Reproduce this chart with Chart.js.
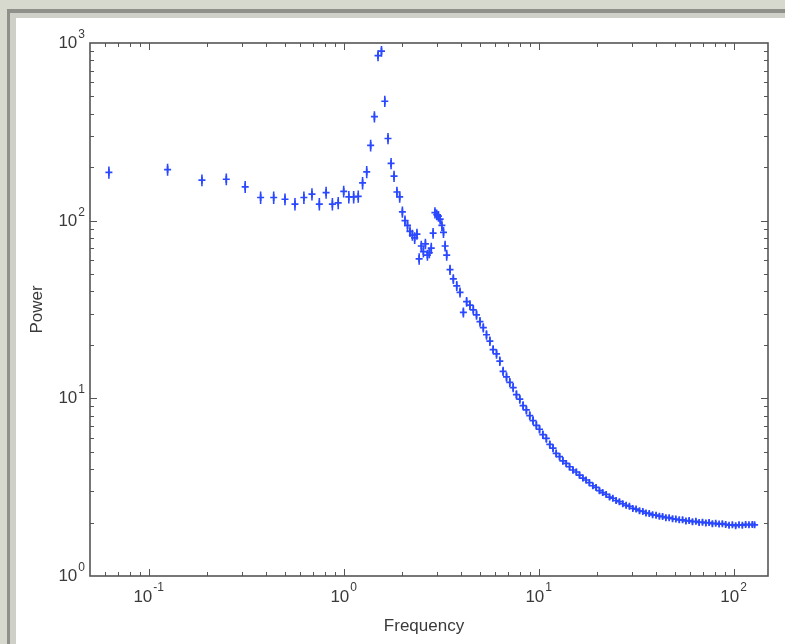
<!DOCTYPE html>
<html>
<head>
<meta charset="utf-8">
<title>Power spectrum</title>
<script src="https://cdn.jsdelivr.net/npm/chart.js@4"></script>
<style>
  html, body { margin: 0; padding: 0; }
  body { width: 785px; height: 644px; overflow: hidden; position: relative; background: #d7d8ce; }
  .edge  { position: absolute; left: 7px;  top: 9px;  right: 0; bottom: 0; background: #8f9089; }
  .band  { position: absolute; left: 10px; top: 13px; right: 0; bottom: 0; background: #cfd0c7; }
  .panel { position: absolute; left: 16px; top: 18px; right: 0; bottom: 0; background: #ffffff; }
  #spectrumChart { position: absolute; left: 0; top: 0; }
</style>
</head>
<body>
<div class="edge"></div>
<div class="band"></div>
<div class="panel"></div>
<canvas id="spectrumChart" width="785" height="644"></canvas>

<script>
// frequency bins (Hz): linear up to 3.375, log-binned above
const freq = [
  0.0625, 0.125, 0.1875, 0.25, 0.3125, 0.375, 0.4375, 0.5, 0.5625, 0.625,
  0.6875, 0.75, 0.8125, 0.875, 0.9375, 1.0, 1.0625, 1.125, 1.1875, 1.25,
  1.3125, 1.375, 1.4375, 1.5, 1.5625, 1.625, 1.6875, 1.75, 1.8125, 1.875,
  1.9375, 2.0, 2.0625, 2.125, 2.1875, 2.25, 2.3125, 2.375, 2.4375, 2.5,
  2.5625, 2.625, 2.6875, 2.75, 2.8125, 2.875, 2.9375, 3.0, 3.0625, 3.125,
  3.1875, 3.25, 3.3125, 3.375,
  3.51, 3.65, 3.8, 3.95, 4.11, 4.27, 4.44, 4.62, 4.8, 5.0,
  5.2, 5.4, 5.62, 5.84, 6.08, 6.32, 6.57, 6.84, 7.11, 7.4,
  7.69, 8.0, 8.32, 8.65, 9.0, 9.36, 9.73, 10.1, 10.5, 10.95,
  11.4, 11.85, 12.3, 12.8, 13.3, 13.85, 14.4, 15.0, 15.6, 16.2,
  16.85, 17.5, 18.2, 18.95, 19.7, 20.5, 21.3, 22.2, 23.1, 24.0,
  24.95, 25.95, 27.0, 28.1, 29.2, 30.4, 31.6, 32.9, 34.2, 35.5,
  36.9, 38.4, 40.0, 41.6, 43.2, 44.9, 46.7, 48.6, 50.5, 52.6,
  54.7, 56.9, 59.1, 61.5, 64.0, 66.5, 69.2, 72.0, 74.8, 77.8,
  80.9, 84.2, 87.5, 91.0, 94.7, 98.5, 102.4, 106.5, 110.8, 115.2,
  119.8, 124.6, 128.0
];

const power = [
  187, 194, 169, 171, 155, 135, 135, 132, 124, 135,
  141, 124, 144, 124, 126, 146, 136, 136, 137, 163,
  188, 265, 385, 850, 900, 470, 290, 210, 178, 145,
  136, 112, 100, 94, 87, 83, 80, 84, 61, 72,
  67, 74, 64, 66, 70, 85, 111, 108, 106, 102,
  94, 86, 72, 64,
  53, 47, 43, 39.5, 30.5, 35, 33.5, 31.5, 29.5, 27,
  25, 22.8, 21, 18.8, 17.8, 16.2, 14.2, 13.2, 12.3, 11.5,
  10.5, 9.9, 9.1, 8.6, 8.0, 7.5, 7.05, 6.7, 6.25, 5.95,
  5.5, 5.25, 4.9, 4.7, 4.45, 4.3, 4.12, 3.95, 3.85, 3.7,
  3.56, 3.47, 3.35, 3.22, 3.15, 3.02, 2.95, 2.88, 2.78, 2.74,
  2.66, 2.62, 2.55, 2.5, 2.47, 2.4, 2.38, 2.33, 2.31, 2.26,
  2.25, 2.21, 2.2, 2.17, 2.16, 2.13, 2.13, 2.1, 2.09, 2.07,
  2.07, 2.04, 2.05, 2.02, 2.03, 2.0, 2.01, 1.99, 2.0, 1.97,
  1.98, 1.96, 1.97, 1.95, 1.93, 1.94, 1.92, 1.94, 1.93, 1.95,
  1.94, 1.95, 1.94
];

// one-sigma uncertainty on each power estimate
const powerErr = [
  15, 15, 13, 13, 12, 11, 11, 10, 10, 11,
  11, 10, 11, 10, 10, 11, 11, 11, 11, 13,
  15, 20, 28, 60, 62, 34, 21, 15, 13, 10,
  10, 8, 7, 7, 6, 6, 6, 6, 4.5, 5,
  5, 5, 4.5, 4.5, 5, 6, 8, 7.5, 7.5, 7,
  6.5, 6, 5, 4.5,
  3.5, 3.0, 2.8, 2.5, 2.0, 2.2, 2.1, 2.0, 1.8, 1.7,
  1.5, 1.4, 1.3, 1.1, 1.1, 1.0, 0.85, 0.8, 0.72, 0.68,
  0.62, 0.58, 0.53, 0.5, 0.46, 0.43, 0.4, 0.37, 0.34, 0.32,
  0.29, 0.27, 0.25, 0.23, 0.22, 0.2, 0.19, 0.18, 0.17, 0.16,
  0.15, 0.14, 0.14, 0.13, 0.12, 0.12, 0.11, 0.11, 0.1, 0.1,
  0.09, 0.09, 0.09, 0.09, 0.08, 0.08, 0.08, 0.08, 0.08, 0.08,
  0.07, 0.07, 0.07, 0.07, 0.07, 0.07, 0.07, 0.07, 0.07, 0.07,
  0.07, 0.07, 0.07, 0.07, 0.07, 0.07, 0.07, 0.07, 0.07, 0.07,
  0.06, 0.06, 0.06, 0.06, 0.06, 0.06, 0.06, 0.06, 0.06, 0.06,
  0.06, 0.06, 0.06
];

// decade tick labels, written as 10 with a raised exponent
const xTickValues = [0.1, 1, 10, 100];
const xTickExps = ["-1", "0", "1", "2"];
const yTickValues = [1, 10, 100, 1000];
const yTickExps = ["0", "1", "2", "3"];

const X_MIN = 0.05, X_MAX = 150;
const Y_MIN = 1, Y_MAX = 1000;
const MARK_COLOR = "#2a48ff";
const AXIS_COLOR = "#555555";
const TEXT_COLOR = "#3a3a3a";
const FONT = "'Liberation Sans', Arial, sans-serif";

// vertical error bar through every point
const errorBars = {
    id: "errorBars",
    beforeDatasetsDraw(chart) {
        const { ctx, scales: { x, y } } = chart;
        ctx.save();
        ctx.strokeStyle = MARK_COLOR;
        ctx.lineWidth = 1.6;
        ctx.beginPath();
        freq.forEach((f, i) => {
            const px = x.getPixelForValue(f);
            ctx.moveTo(px, y.getPixelForValue(power[i] - powerErr[i]));
            ctx.lineTo(px, y.getPixelForValue(power[i] + powerErr[i]));
        });
        ctx.stroke();
        ctx.restore();
    }
};

// boxed axes with inward ticks on all four sides, plus labels
const boxedAxes = {
    id: "boxedAxes",
    afterDatasetsDraw(chart) {
        const { ctx, chartArea: a, scales: { x, y } } = chart;
        ctx.save();

        ctx.strokeStyle = AXIS_COLOR;
        ctx.lineWidth = 1;
        ctx.beginPath();
        for (let d = 0.01; d <= 100; d *= 10) {
            for (let m = 1; m < 10; m++) {
                const v = d * m;
                if (v < X_MIN * 1.001 || v > X_MAX) continue;
                const px = Math.round(x.getPixelForValue(v)) + 0.5;
                const len = m === 1 ? 7 : 4;
                ctx.moveTo(px, a.bottom); ctx.lineTo(px, a.bottom - len);
                ctx.moveTo(px, a.top); ctx.lineTo(px, a.top + len);
            }
        }
        for (let d = 1; d < Y_MAX; d *= 10) {
            for (let m = 1; m < 10; m++) {
                const v = d * m;
                if (v <= Y_MIN || v >= Y_MAX) continue;
                const py = Math.round(y.getPixelForValue(v)) + 0.5;
                const len = m === 1 ? 7 : 4;
                ctx.moveTo(a.left, py); ctx.lineTo(a.left + len, py);
                ctx.moveTo(a.right, py); ctx.lineTo(a.right - len, py);
            }
        }
        ctx.stroke();

        ctx.lineWidth = 1.6;
        ctx.strokeRect(a.left, a.top, a.right - a.left, a.bottom - a.top);

        ctx.fillStyle = TEXT_COLOR;
        ctx.textBaseline = "alphabetic";
        ctx.textAlign = "left";

        xTickValues.forEach((v, i) => {
            const px = x.getPixelForValue(v);
            ctx.font = "17px " + FONT;
            const wb = ctx.measureText("10").width;
            ctx.font = "12px " + FONT;
            const we = ctx.measureText(xTickExps[i]).width;
            const left = px - (wb + we + 1) / 2;
            ctx.font = "17px " + FONT;
            ctx.fillText("10", left, a.bottom + 26);
            ctx.font = "12px " + FONT;
            ctx.fillText(xTickExps[i], left + wb + 1, a.bottom + 15);
        });

        yTickValues.forEach((v, i) => {
            const py = y.getPixelForValue(v);
            ctx.font = "12px " + FONT;
            const we = ctx.measureText(yTickExps[i]).width;
            ctx.font = "17px " + FONT;
            const wb = ctx.measureText("10").width;
            const expLeft = a.left - 5 - we;
            ctx.fillText("10", expLeft - 1 - wb, py + 5);
            ctx.font = "12px " + FONT;
            ctx.fillText(yTickExps[i], expLeft, py - 5);
        });

        ctx.font = "17px " + FONT;
        ctx.textAlign = "center";
        ctx.fillText("Frequency", (a.left + a.right) / 2 - 5, a.bottom + 55);

        ctx.translate(42, (a.top + a.bottom) / 2);
        ctx.rotate(-Math.PI / 2);
        ctx.fillText("Power", 0, 0);

        ctx.restore();
    }
};

function createSpectrumChart() {

    const ctx = document.getElementById("spectrumChart");

    if (!ctx) return;

    new Chart(ctx, {
        type: "scatter",
        data: {
            datasets: [
                {
                    label: "Power",
                    data: freq.map((f, i) => ({ x: f, y: power[i] })),
                    pointStyle: "cross",
                    pointRadius: 3.5,
                    pointBorderWidth: 1.7,
                    borderColor: MARK_COLOR,
                    backgroundColor: MARK_COLOR
                }
            ]
        },
        options: {
            responsive: false,
            devicePixelRatio: 1,
            animation: false,
            layout: {
                padding: { left: 90, right: 17, top: 43, bottom: 68 }
            },
            plugins: {
                legend: { display: false },
                tooltip: { enabled: false }
            },
            scales: {
                x: { type: "logarithmic", min: X_MIN, max: X_MAX, display: false },
                y: { type: "logarithmic", min: Y_MIN, max: Y_MAX, display: false }
            }
        },
        plugins: [errorBars, boxedAxes]
    });
}

createSpectrumChart();
</script>
</body>
</html>
